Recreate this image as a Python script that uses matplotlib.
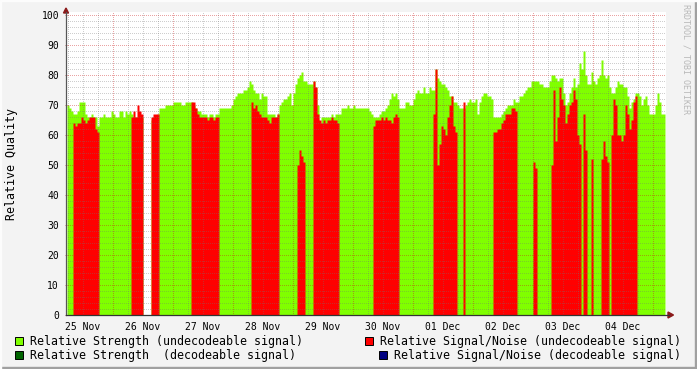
import matplotlib
matplotlib.use('Agg')
import matplotlib.pyplot as plt
import matplotlib.dates as mdates
from matplotlib.patches import Rectangle, Polygon
from matplotlib.lines import Line2D
import numpy as np
import pandas as pd

# one sample every 48 minutes, starting 25 Nov 05:36
strength = [70, 69, 68, 67, 67, 68, 71, 71, 71, 67, 66, 66, 67, 66, 66, 63,
            66, 66, 67, 66, 66, 66, 68, 67, 66, 66, 68, 68, 66, 68, 67, 68,
            67, 66, 66, 66, 66, 66, 0, 0, 0, 0, 65, 66, 66, 67,
            69, 69, 69, 70, 70, 70, 70, 71, 71, 71, 71, 70, 70, 71, 71, 71,
            71, 70, 69, 68, 68, 67, 67, 67, 66, 67, 67, 66, 67, 67,
            69, 69, 69, 69, 69, 69, 70, 72, 73, 74, 74, 74, 75, 75, 76, 78,
            77, 75, 74, 74, 72, 74, 73, 73, 67, 67, 67, 67, 66, 67,
            70, 71, 72, 72, 73, 74, 70, 74, 77, 79, 80, 81, 78, 78, 77, 77, 77,
            78, 76, 70, 63, 66, 66, 66, 66, 66, 67, 66, 67, 67,
            67, 69, 69, 69, 70, 69, 69, 70, 69, 69, 69, 69, 69, 69, 69, 68, 67,
            66, 66, 66, 67, 68, 68, 69, 70, 72, 74, 73, 74, 72,
            69, 69, 69, 71, 71, 70, 70, 72, 74, 75, 74, 74, 76, 74, 74, 76, 75,
            75, 82, 79, 78, 77, 77, 76, 75, 73, 73, 71, 71,
            70, 69, 69, 69, 70, 71, 72, 71, 71, 72, 67, 71, 73, 74, 74, 73, 73, 72,
            66, 66, 66, 66, 67, 68, 69, 70, 70, 70, 72, 71,
            71, 73, 73, 74, 75, 76, 76, 78, 78, 78, 78, 77, 77, 76, 76, 76, 78,
            80, 80, 79, 78, 79, 79, 74, 70, 71, 74, 76, 79, 76, 77, 84, 82, 88, 80,
            77, 77, 81, 78, 77, 79, 80, 85, 80, 79, 80, 76,
            74, 74, 76, 78, 77, 77, 76, 76, 73, 69, 71, 72, 74,
            74, 73, 70, 72, 73, 70, 67, 67, 67, 70, 74, 71, 67, 67]

snr = ([0, 0, 0, 64, 63, 64, 64, 66, 65, 64, 65, 66, 66, 66, 62, 61]
       + [0] * 16
       + [66, 68, 66, 70, 68, 67] + [0] * 4 + [66, 67, 67, 67]
       + [0] * 16
       + [71, 71, 69, 67, 66, 66, 66, 66, 65, 66, 66, 65, 66, 66]
       + [0] * 16
       + [71, 69, 70, 68, 67, 66, 66, 66, 65, 64, 66, 66, 66, 67]
       + [0] * 9 + [50, 55, 53, 51] + [0] * 4
       + [78, 76, 67, 65, 64, 65, 64, 65, 65, 66, 65, 65, 64]
       + [0] * 17
       + [63, 65, 65, 65, 66, 65, 66, 65, 65, 64, 66, 67, 66]
       + [0] * 17
       + [67, 82, 50, 57, 63, 62, 60, 66, 70, 73, 63, 61]
       + [0] * 3 + [71] + [0] * 14
       + [61, 61, 62, 62, 64, 65, 67, 67, 67, 69, 69, 68]
       + [0] * 8 + [51, 49] + [0] * 7
       + [50, 75, 58, 66, 76, 72, 70, 64, 67, 70, 71, 75, 72, 60, 57, 0, 67, 55]
       + [0] * 2 + [52] + [0] * 4 + [52, 58, 53, 51] + [0]
       + [60, 72, 70, 60, 60, 58, 60, 70, 67, 62, 65, 71, 73]
       + [0] * 14)

day_labels = ['25 Nov', '26 Nov', '27 Nov', '28 Nov', '29 Nov',
              '30 Nov', '01 Dec', '02 Dec', '03 Dec', '04 Dec']

W, H = 697, 369
def fx(px):
    return px / W
def fy(py):
    return 1 - py / H

mono = 'DejaVu Sans Mono'
green = '#80ff00'
red = '#ff0000'

n = len(strength)
edges = mdates.date2num(pd.date_range('2021-11-25 05:36', periods=n + 1, freq='48min'))
g = np.append(strength, strength[-1])
r = np.append(snr, snr[-1])

fig = plt.figure(figsize=(6.97, 3.69), dpi=100, facecolor='#f3f3f3')
ax = fig.add_axes([fx(66), fy(315), 600 / W, 303 / H])
ax.set_facecolor('white')

ax.fill_between(edges, 0, g, step='post', color=green, lw=0, antialiased=False, zorder=1)
ax.fill_between(edges, 0, r, step='post', color=red, lw=0, antialiased=False, zorder=2)

x0 = mdates.date2num(pd.Timestamp('2021-11-25 05:12'))
x1 = mdates.date2num(pd.Timestamp('2021-12-05 05:12'))
ax.set_xlim(x0, x1)
ax.set_ylim(0, 101)

# dotted grid drawn over the data, like rrdtool
minor_c = (0.45, 0.45, 0.45, 0.35)
major_c = (0.8, 0.1, 0.1, 0.4)
for t in pd.date_range('2021-11-25 06:00', '2021-12-05 00:00', freq='6h'):
    c = major_c if t.hour == 0 else minor_c
    ax.axvline(mdates.date2num(t), color=c, lw=0.72, ls=(0, (1, 2)), antialiased=False, zorder=3)
for v in range(2, 101, 2):
    c = major_c if v % 10 == 0 else minor_c
    ax.axhline(v, color=c, lw=0.72, ls=(0, (1, 2)), antialiased=False, zorder=3)

noon = mdates.date2num(pd.date_range('2021-11-25 12:00', periods=len(day_labels), freq='D'))
ax.set_xticks(noon)
ax.set_xticklabels(day_labels, fontsize=7, family=mono)
ax.tick_params(axis='x', length=0, pad=5)
ax.set_yticks(range(0, 101, 10))
ax.set_yticklabels([str(v) for v in range(0, 101, 10)], fontsize=7, family=mono)
ax.tick_params(axis='y', length=2, width=0.7, color='#c07070', direction='inout', pad=4)
for s in ax.spines.values():
    s.set_visible(False)

# axes with arrows
fig.add_artist(Line2D([fx(66), fx(66)], [fy(315), fy(12)], color='#555555', lw=0.9))
fig.add_artist(Line2D([fx(66), fx(669)], [fy(315), fy(315)], color='#333333', lw=0.9))
fig.add_artist(Polygon([(fx(63.5), fy(13)), (fx(68.5), fy(13)), (fx(66), fy(8))],
                       closed=True, color='#8b1a1a', transform=fig.transFigure))
fig.add_artist(Polygon([(fx(668), fy(312)), (fx(668), fy(318)), (fx(673.5), fy(315))],
                       closed=True, color='#8b1a1a', transform=fig.transFigure))

fig.text(fx(12), fy(164), 'Relative Quality', rotation=90, ha='center', va='center',
         fontsize=8.4, family=mono)
fig.text(fx(686), fy(59), 'RRDTOOL / TOBI OETIKER', rotation=270, ha='center', va='center',
         fontsize=6, family=mono, color='#b8b8b8')

# legend
legend = [(15, 341, green, 'Relative Strength (undecodeable signal)'),
          (365, 341, red, 'Relative Signal/Noise (undecodeable signal)'),
          (15, 355, '#006400', 'Relative Strength  (decodeable signal)'),
          (379, 355, '#000080', 'Relative Signal/Noise (decodeable signal)')]
for bx, by, col, label in legend:
    fig.add_artist(Rectangle((fx(bx), fy(by + 4)), 8 / W, 8 / H, facecolor=col,
                             edgecolor='black', lw=0.7, transform=fig.transFigure))
    fig.text(fx(bx + 15), fy(by), label, ha='left', va='center', fontsize=8.4, family=mono)

# rrdtool style frame
fig.add_artist(Rectangle((0, 0), 1, 2 / H, color='#a0a0a0', transform=fig.transFigure))
fig.add_artist(Rectangle((1 - 2 / W, 0), 2 / W, 1, color='#a0a0a0', transform=fig.transFigure))
fig.add_artist(Rectangle((0, 1 - 1 / H), 1, 1 / H, color='#fcfcfc', transform=fig.transFigure))
fig.add_artist(Rectangle((0, 0), 1 / W, 1, color='#fcfcfc', transform=fig.transFigure))

fig.savefig('out.png', dpi=100, facecolor=fig.get_facecolor())
